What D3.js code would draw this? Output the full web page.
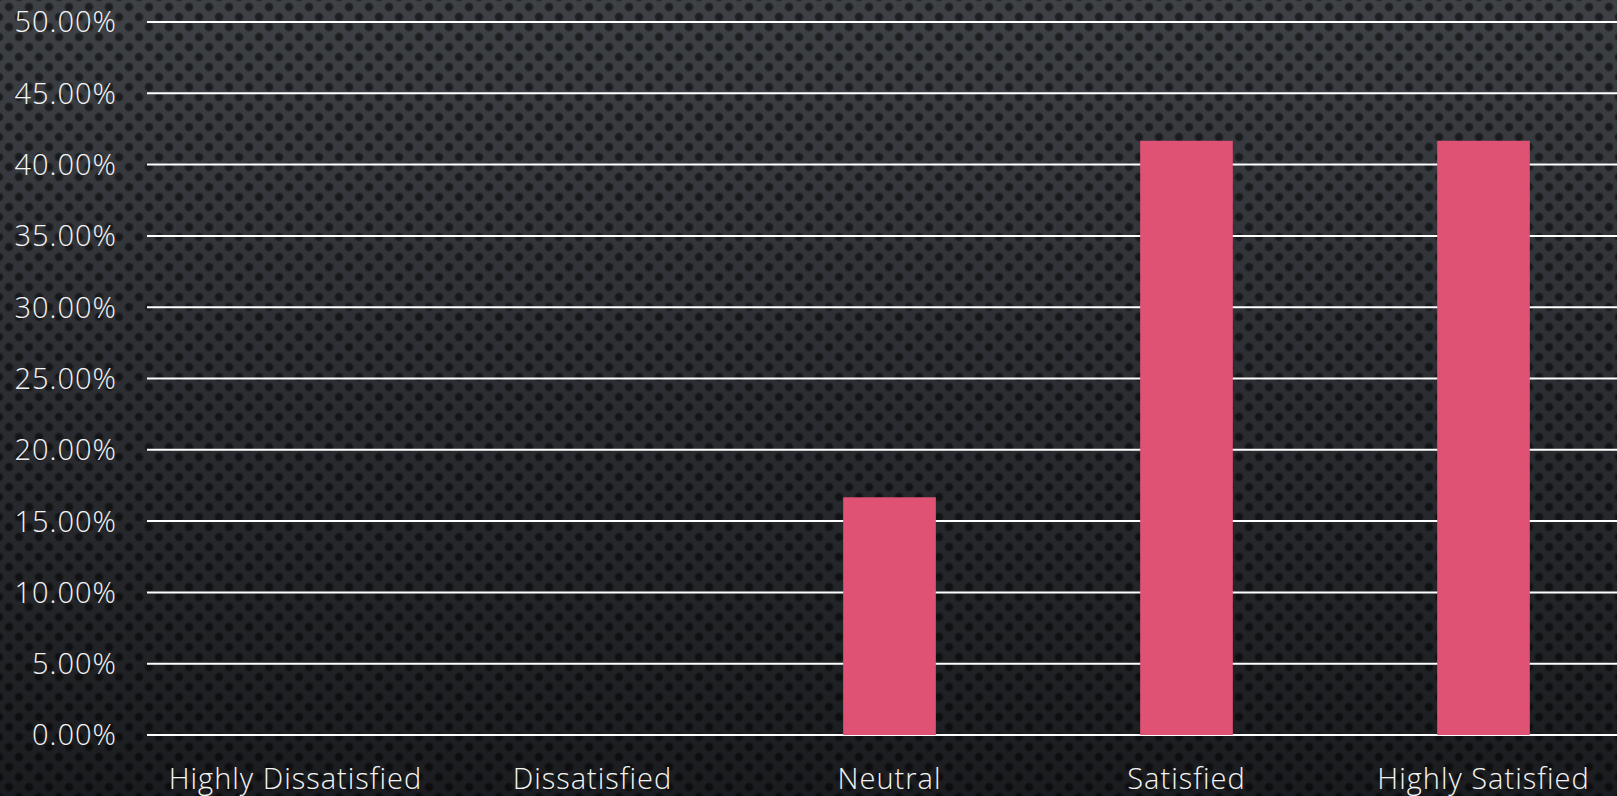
<!DOCTYPE html>
<html>
<head>
<meta charset="utf-8">
<script src="https://cdn.jsdelivr.net/npm/d3@7"></script>
<style>
  html, body { margin: 0; padding: 0; background: #2a2c30; overflow: hidden; }
  svg { display: block; }
  text { font-family: "Open Sans", "Lato", sans-serif; font-weight: 300; fill: #f4f4f4; letter-spacing: 1px; }
</style>
</head>
<body>
<svg id="chart" width="1617" height="796"></svg>
<script>
// ---- data ----
const categories = ["Highly Dissatisfied", "Dissatisfied", "Neutral", "Satisfied", "Highly Satisfied"];
const values = [0, 0, 0.1667, 0.4167, 0.4167];
const yTicks = [0, 0.05, 0.10, 0.15, 0.20, 0.25, 0.30, 0.35, 0.40, 0.45, 0.50];

// ---- layout ----
const W = 1617, H = 796;
const plot = { left: 147, right: 1632, top: 22, bottom: 735 };

const svg = d3.select("#chart");
const defs = svg.append("defs");

// background gradient
const bg = defs.append("linearGradient").attr("id", "bgGrad")
  .attr("x1", 0).attr("y1", 0).attr("x2", 0).attr("y2", 1);
bg.append("stop").attr("offset", "0%").attr("stop-color", "#3e4146");
bg.append("stop").attr("offset", "50%").attr("stop-color", "#2b2d32");
bg.append("stop").attr("offset", "100%").attr("stop-color", "#1b1c1f");

// dot pattern
const dotGrad = defs.append("radialGradient").attr("id", "dotGrad");
dotGrad.append("stop").attr("offset", "0%").attr("stop-color", "#000").attr("stop-opacity", 0.55);
dotGrad.append("stop").attr("offset", "60%").attr("stop-color", "#000").attr("stop-opacity", 0.5);
dotGrad.append("stop").attr("offset", "100%").attr("stop-color", "#000").attr("stop-opacity", 0);

const pat = defs.append("pattern").attr("id", "dots")
  .attr("patternUnits", "userSpaceOnUse")
  .attr("width", 20).attr("height", 20)
  .attr("x", 4).attr("y", 2);
pat.append("circle").attr("cx", 5).attr("cy", 5).attr("r", 5.2).attr("fill", "url(#dotGrad)");
pat.append("circle").attr("cx", 15).attr("cy", 15).attr("r", 5.2).attr("fill", "url(#dotGrad)");

svg.append("rect").attr("width", W).attr("height", H).attr("fill", "url(#bgGrad)");
svg.append("rect").attr("width", W).attr("height", H).attr("fill", "url(#dots)");

// ---- scales ----
const x = d3.scaleBand().domain(categories).range([plot.left, plot.right]).padding(0);
const y = d3.scaleLinear().domain([0, 0.5]).range([plot.bottom, plot.top]);
const barW = x.bandwidth() * 0.312;

// gridlines
svg.append("g").selectAll("line").data(yTicks).join("line")
  .attr("x1", plot.left).attr("x2", W)
  .attr("y1", d => y(d)).attr("y2", d => y(d))
  .attr("stroke", "#ffffff").attr("stroke-width", 2);

// y-axis labels
const fmt = d3.format(".2%");
svg.append("g").selectAll("text").data(yTicks).join("text")
  .attr("x", 117).attr("y", d => y(d))
  .attr("dy", "0.36em")
  .attr("text-anchor", "end")
  .style("font-size", "29px")
  .text(d => fmt(d));

// bars
svg.append("g").selectAll("rect").data(categories.map((c, i) => ({ c, v: values[i] })))
  .join("rect")
  .attr("x", d => x(d.c) + x.bandwidth() / 2 - barW / 2)
  .attr("width", barW)
  .attr("y", d => y(d.v))
  .attr("height", d => y(0) - y(d.v))
  .attr("fill", "#e05274");

// x labels
svg.append("g").selectAll("text").data(categories).join("text")
  .attr("x", d => x(d) + x.bandwidth() / 2)
  .attr("y", 789)
  .attr("text-anchor", "middle")
  .style("font-size", "29px")
  .text(d => d);
</script>
</body>
</html>
